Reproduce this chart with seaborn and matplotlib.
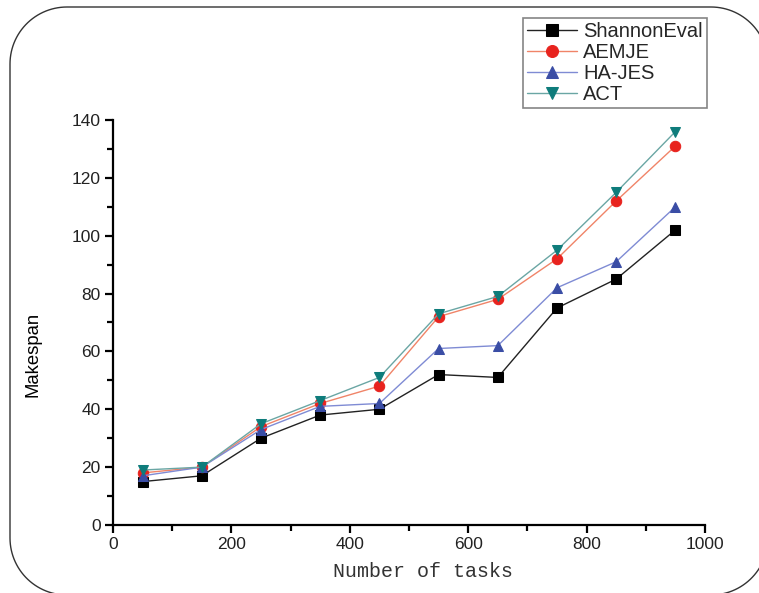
import numpy as np
import pandas as pd
import matplotlib
matplotlib.use("Agg")
import matplotlib.pyplot as plt
import seaborn as sns
from matplotlib.patches import PathPatch
from matplotlib.path import Path
from matplotlib.transforms import IdentityTransform
from matplotlib.ticker import MultipleLocator

# Data
tasks = [50, 150, 250, 350, 450, 550, 650, 750, 850, 950]
shannon_eval = [15, 17, 30, 38, 40, 52, 51, 75, 85, 102]
aemje = [18, 20, 34, 42, 48, 72, 78, 92, 112, 131]
ha_jes = [17, 20, 33, 41, 42, 61, 62, 82, 91, 110]
act = [19, 20, 35, 43, 51, 73, 79, 95, 115, 136]

names = ["ShannonEval", "AEMJE", "HA-JES", "ACT"]
series = [shannon_eval, aemje, ha_jes, act]

# Style per series: line colour, marker, marker colour
line_colors = ["#222222", "#F08468", "#7F8BD4", "#6AA6A4"]
marker_colors = ["#000000", "#E8231E", "#3A4DA5", "#0E7C7B"]
markers = ["s", "o", "^", "v"]

sns.set_style("ticks")
plt.rcParams["font.family"] = ["Liberation Sans", "DejaVu Sans"]

fig = plt.figure(figsize=(7.59, 5.93), dpi=100)
ax = fig.add_axes([0.1489, 0.1147, 0.78, 0.683])

for name, vals, lc, mc, m in zip(names, series, line_colors, marker_colors, markers):
    df = pd.DataFrame({"tasks": tasks, "makespan": vals})
    sns.lineplot(
        data=df, x="tasks", y="makespan", ax=ax,
        color=lc, linewidth=1.0, marker=m, markersize=7.5,
        markerfacecolor=mc, markeredgecolor=mc, label=name
    )

ax.set_xlim(0, 1000)
ax.set_ylim(0, 140)
ax.xaxis.set_major_locator(MultipleLocator(200))
ax.xaxis.set_minor_locator(MultipleLocator(100))
ax.yaxis.set_major_locator(MultipleLocator(20))
ax.yaxis.set_minor_locator(MultipleLocator(10))

for side in ["top", "right"]:
    ax.spines[side].set_visible(False)
for side in ["left", "bottom"]:
    ax.spines[side].set_linewidth(1.6)
    ax.spines[side].set_color("black")

ax.tick_params(which="major", direction="out", length=6, width=1.6,
               labelsize=12.5, colors="black", pad=3)
ax.tick_params(which="minor", direction="out", length=4, width=1.6, colors="black")
for lab in ax.get_xticklabels() + ax.get_yticklabels():
    lab.set_color("#222222")

ax.set_xlabel("Number of tasks", family=["Liberation Mono", "DejaVu Sans Mono"],
              fontsize=14.4, color="#333333")
ax.xaxis.set_label_coords(0.524, -0.091)
ax.set_ylabel("Makespan", fontsize=13.3, color="black")
ax.yaxis.set_label_coords(-0.12, 0.421)

leg = ax.legend(
    loc="upper left", bbox_to_anchor=(0.689, 0.970),
    bbox_transform=fig.transFigure, fontsize=14.5,
    handlelength=2.5, handletextpad=0.3, borderpad=0.2,
    labelspacing=0.1, borderaxespad=0, markerscale=1.15,
    fancybox=False, frameon=True
)
leg.get_frame().set_edgecolor("#666666")
leg.get_frame().set_linewidth(1.2)

# Rounded outer frame, drawn in pixel coordinates
x0, x1, y0, y1, r = 10, 768, -2, 586, 57
t = np.linspace(0, np.pi / 2, 30)
pts = []
pts += list(zip(x1 - r + r * np.cos(t), y1 - r + r * np.sin(t)))            # top-right
pts += list(zip(x0 + r - r * np.sin(t), y1 - r + r * np.cos(t)))            # top-left
pts += list(zip(x0 + r - r * np.cos(t), y0 + r - r * np.sin(t)))            # bottom-left
pts += list(zip(x1 - r + r * np.sin(t), y0 + r - r * np.cos(t)))            # bottom-right
pts.append(pts[0])
frame = PathPatch(Path(pts), transform=IdentityTransform(), facecolor="none",
                  edgecolor="#333333", linewidth=1.0, clip_on=False)
fig.add_artist(frame)

fig.savefig("out.png", dpi=100)
